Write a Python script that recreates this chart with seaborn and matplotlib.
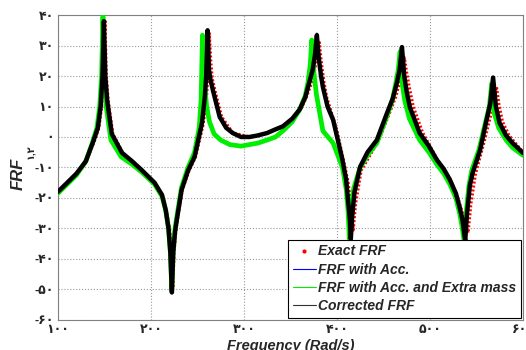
import matplotlib
matplotlib.use('Agg')
import matplotlib.pyplot as plt
from matplotlib.lines import Line2D
import seaborn as sns

# Corrected FRF (black) and FRF with Acc. (blue) (dB)
freq_corr = [100, 110, 120, 130, 138, 143, 146, 148, 149.5, 151, 153, 158, 169, 180, 190,
             204, 212, 216, 219, 221, 222.6, 224, 226, 228, 233, 240, 247, 255, 258, 259.5,
             261, 262.5, 264, 267, 274, 281, 288, 297, 306, 315, 325, 334, 342, 352, 360,
             366, 371, 374, 376.5, 378.5, 380.5, 383, 385, 390, 396, 406, 410, 412, 414, 415,
             416.5, 419, 425, 433, 443, 454, 460, 464.5, 467.5, 470, 472.5, 475, 478.5, 489,
             499, 507.5, 515, 521.5, 528, 532, 535, 538, 540, 543, 546, 554, 561, 565, 568,
             571, 575, 582, 589, 600]
corr_db = [-18, -15, -12, -8, -1.5, 3, 10, 20, 38, 20, 12, 1, -5.2, -8, -10.8,
           -15, -19, -24, -30, -38, -51, -38, -31, -27, -17.4, -11, -6.5, 4.6, 13, 20,
           35, 22, 19, 15, 6.6, 3, 1.3, 0, 0, 0.5, 1.3, 2.5, 3.5, 6, 9,
           13, 18.7, 22, 27, 33.4, 26, 20, 16.4, 10, 5.6, -7.5, -14, -20.7, -27, -33.5,
           -26, -18, -9.8, -5, -1, 7.9, 12.5, 17.7, 22, 29.5, 20, 15, 9.8, 1.3,
           -3, -7.5, -10.5, -14, -18.5, -23, -27, -34, -25, -16, -11.8, -4.3, 5.6, 11, 19.5,
           10, 4.6, 0.5, -2, -5.2]
acc_db = [-18, -15, -12, -8, -1.5, 3, 10, 20, 38, 20, 12, 1, -5.2, -8, -10.8,
          -15, -19, -24, -30, -38, -51, -38, -31, -27, -17.4, -11, -6.5, 4.6, 13, 20,
          35, 22, 19, 15, 6.6, 3, 1.3, 0, 0, 0.5, 1.3, 2.5, 3.5, 6, 9,
          13, 18.7, 22, 27, 34, 26, 20, 16.4, 10, 5.6, -7.5, -14, -20.7, -27, -33.5,
          -26, -18, -9.8, -5, -1, 7.9, 12.5, 17.7, 22, 29.5, 20, 15, 9.8, 1.3,
          -3, -7.5, -10.5, -14, -18.5, -23, -27, -34, -25, -16, -11.8, -4.3, 5.6, 11, 19.5,
          10, 4.6, 0.5, -2, -5.2]

# Exact FRF (red dots)
freq_exact = [100, 110, 120, 130, 139, 144, 147, 149, 150.5, 152, 154, 159, 170, 180, 190,
              204, 212, 216.5, 220, 222, 223.5, 225, 227, 229, 234, 241, 248, 256, 259.5, 261,
              262.7, 264.5, 266, 269, 276, 288, 306, 325, 342, 352, 361, 367, 373, 376,
              378.5, 381, 383, 386, 389, 395, 400, 408, 412, 415, 417.5, 420, 426, 445, 456,
              463, 467, 470, 472.5, 475, 478, 482, 492, 508, 522, 530, 535, 538.5, 541,
              544, 549, 557, 564, 568.5, 571.5, 574, 578, 585, 600]
exact_db = [-18.4, -15.2, -12.2, -8.2, -1.5, 3, 10, 20, 38.5, 20, 12, 1, -5.4, -8.2, -11,
            -15.2, -19, -24, -30, -38, -49.5, -37, -30, -26, -17, -11, -6.5, 4, 12, 19,
            34, 24, 19, 15, 6.6, 1.3, 0, 1.3, 3.5, 6, 9, 13, 18, 22,
            26, 31, 25, 18, 13, 7, 2, -9, -15, -22, -30.5, -22, -11, -1, 7.5,
            13, 17.5, 21, 26, 21, 16, 10, 1.5, -7.5, -14, -20, -25, -29, -31.5,
            -22, -12, -3, 5.5, 11, 16.5, 11, 5, 0.5, -5]

# FRF with Acc. and Extra mass (green)
freq_mass = [100, 110, 120, 130, 137, 142, 145, 147, 148.5, 150, 152, 157, 168, 180, 190,
             204, 212, 216, 219, 221, 222.5, 224, 226, 228, 233, 240, 247, 252, 254, 255.5,
             257.5, 260, 263, 268, 275, 285, 297, 306, 315, 325, 334, 342, 352, 360, 366,
             369, 371.5, 373, 375, 378, 385, 396, 406, 410, 412, 413.5, 415, 418, 425, 433,
             443, 454, 460, 463, 466, 468, 470, 473, 478, 489, 499, 507.5, 515, 521.5, 528,
             532, 535, 537, 539, 542, 545, 553, 560, 564, 566.5, 569, 574, 582, 589, 600]
mass_db = [-18.5, -15.5, -12.5, -8, -2, 3, 10, 20, 39.5, 18, 10, -1, -6.5, -9, -11.5,
           -15.5, -19.5, -24, -30, -38, -50, -38, -30, -26, -16.5, -10, -5, 3, 12, 33.4,
           18, 10, 5, 1, -1, -2.5, -3, -2.5, -2, -1, 0, 2, 5, 9, 13.5,
           18, 24, 31.8, 22, 14, 2, -2, -10, -17, -24, -33.5, -25, -17, -10, -6,
           -2, 7, 12.5, 17, 22, 28, 18, 12, 6, -1, -5, -9, -12, -15.5, -20,
           -25, -30, -34.5, -25, -16, -11, -4, 5, 10, 17.5, 8, 3, -1, -3.5, -6]

fa = '۰۱۲۳۴۵۶۷۸۹'
def fa_num(v):
    s = ''.join(fa[int(c)] for c in str(abs(v)))
    return ('-' + s) if v < 0 else s

x_ticks = [100, 200, 300, 400, 500, 600]
y_ticks = [-60, -50, -40, -30, -20, -10, 0, 10, 20, 30, 40]

sns.set_style('white')
plt.rcParams['font.family'] = ['Liberation Sans', 'DejaVu Sans']

fig = plt.figure(figsize=(5.26, 3.5), dpi=100)
ax = fig.add_axes([0.110, 0.086, 0.884, 0.871])

sns.lineplot(x=freq_exact, y=exact_db, ax=ax, color='red', lw=2.4,
             linestyle=(0, (0.6, 0.6)), legend=False, zorder=2)
sns.lineplot(x=freq_corr, y=acc_db, ax=ax, color='blue', lw=1.2, legend=False, zorder=3)
sns.lineplot(x=freq_mass, y=mass_db, ax=ax, color='#00ee00', lw=3.4, legend=False, zorder=4)
sns.lineplot(x=freq_corr, y=corr_db, ax=ax, color='black', lw=3.2, legend=False, zorder=5)

ax.set_xlim(100, 600)
ax.set_ylim(-60, 40)
ax.set_xticks(x_ticks)
ax.set_yticks(y_ticks)
ax.set_xticklabels([fa_num(v) for v in x_ticks], fontweight='bold', fontsize=9)
ax.set_yticklabels([fa_num(v) for v in y_ticks], fontweight='bold', fontsize=9)
ax.tick_params(direction='in', length=3, color='#808080', pad=3)
ax.grid(True, linestyle=':', color='#999999', lw=0.8)
for sp in ax.spines.values():
    sp.set_color('#808080')
    sp.set_linewidth(0.8)

ax.set_xlabel('Frequency (Rad/s)', fontweight='bold', fontstyle='italic', fontsize=10.5, labelpad=2)
fig.text(18 / 526, 1 - 174 / 350, 'FRF', rotation=90, fontweight='bold', fontstyle='italic',
         fontsize=12, ha='center', va='center')
fig.text(31 / 526, 1 - 152 / 350, '۱,۲', rotation=90, fontweight='bold', fontsize=7,
         ha='center', va='center')

handles = [
    Line2D([], [], color='red', marker='.', markersize=4, linestyle='none'),
    Line2D([], [], color='blue', lw=0.8),
    Line2D([], [], color='#00ee00', lw=0.8),
    Line2D([], [], color='#333333', lw=0.8),
]
labels = ['Exact FRF', 'FRF with Acc.', 'FRF with Acc. and Extra mass', 'Corrected FRF']
leg = ax.legend(handles, labels, loc='lower right', bbox_to_anchor=(1.0, 0.0),
                borderaxespad=0.15, fancybox=False, framealpha=1, edgecolor='black',
                prop={'weight': 'bold', 'style': 'italic', 'size': 10},
                handlelength=1.65, handletextpad=0.15, labelspacing=0.3, borderpad=0.35)
leg.set_zorder(10)
leg.get_frame().set_linewidth(0.8)

plt.savefig('out.png', dpi=100)
